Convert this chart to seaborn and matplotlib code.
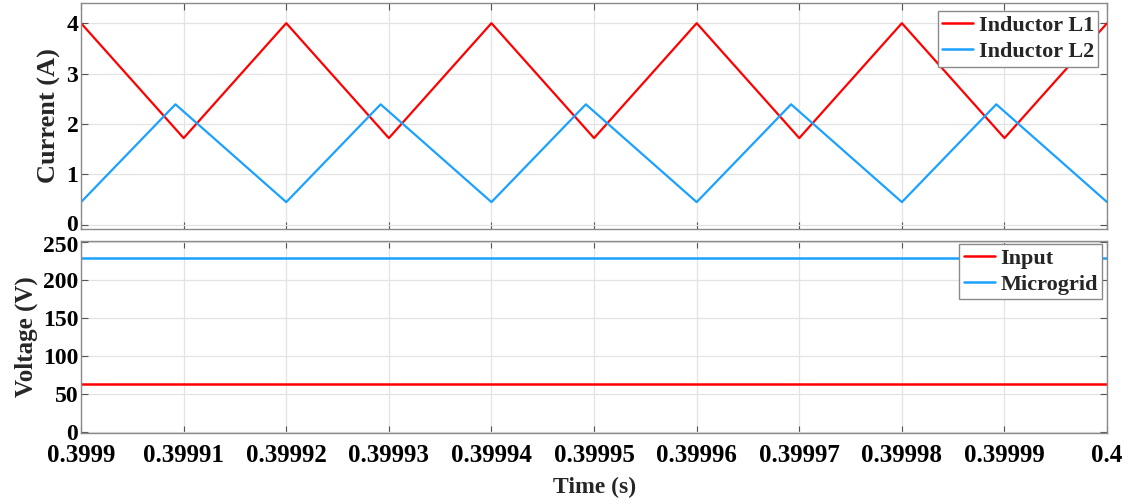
import numpy as np
import pandas as pd
import seaborn as sns
import matplotlib
matplotlib.use("Agg")
import matplotlib.pyplot as plt
from matplotlib.transforms import ScaledTranslation

# Inductor currents (A): triangle-wave vertices over one 100 us window
time_l1 = [0.39990, 0.39991, 0.39992, 0.39993, 0.39994, 0.39995,
           0.39996, 0.39997, 0.39998, 0.39999, 0.40000]
current_l1 = [4.00, 1.72, 4.00, 1.72, 4.00, 1.72, 4.00, 1.72, 4.00, 1.72, 4.00]

time_l2 = [0.39990, 0.3999092, 0.39992, 0.3999292, 0.39994, 0.3999492,
           0.39996, 0.3999692, 0.39998, 0.3999892, 0.40000]
current_l2 = [0.45, 2.39, 0.45, 2.39, 0.45, 2.39, 0.45, 2.39, 0.45, 2.39, 0.45]

# DC voltages (V)
time_v = [0.39990, 0.40000]
voltage_input = [63.0, 63.0]
voltage_microgrid = [229.0, 229.0]

x_ticks = [0.39990, 0.39991, 0.39992, 0.39993, 0.39994, 0.39995,
           0.39996, 0.39997, 0.39998, 0.39999, 0.40000]
x_tick_labels = ["0.3999", "0.39991", "0.39992", "0.39993", "0.39994", "0.39995",
                 "0.39996", "0.39997", "0.39998", "0.39999", "0.4"]
current_ticks = [0, 1, 2, 3, 4]
voltage_ticks = [0, 50, 100, 150, 200, 250]

current_df = pd.concat([
    pd.DataFrame({"t": time_l1, "value": current_l1, "series": "Inductor L1"}),
    pd.DataFrame({"t": time_l2, "value": current_l2, "series": "Inductor L2"}),
], ignore_index=True)
voltage_df = pd.concat([
    pd.DataFrame({"t": time_v, "value": voltage_input, "series": "Input"}),
    pd.DataFrame({"t": time_v, "value": voltage_microgrid, "series": "Microgrid"}),
], ignore_index=True)

RED = "#FF0000"
BLUE = "#1BA1FF"

sns.set_theme(style="white")
plt.rcParams["font.family"] = ["Liberation Serif", "DejaVu Serif"]
plt.rcParams["font.weight"] = "bold"
plt.rcParams["axes.labelweight"] = "bold"

fig = plt.figure(figsize=(11.32, 5.04), dpi=100)
ax_top = fig.add_axes([0.0716, 0.546, 0.9064, 0.448])
ax_bot = fig.add_axes([0.0716, 0.141, 0.9064, 0.381])

sns.lineplot(data=current_df, x="t", y="value", hue="series",
             palette=[RED, BLUE], linewidth=1.6, ax=ax_top, sort=False,
             estimator=None)
sns.lineplot(data=voltage_df, x="t", y="value", hue="series",
             palette=[RED, BLUE], linewidth=1.8, ax=ax_bot, sort=False,
             estimator=None)

for ax in (ax_top, ax_bot):
    ax.set_xlim(0.39990, 0.40000)
    ax.set_xticks(x_ticks)
    ax.grid(True, color="#E3E3E3", linewidth=0.9)
    ax.set_axisbelow(True)
    ax.tick_params(direction="in", length=5, width=0.8, colors="#555555",
                   top=True, right=True, labelsize=17, labelcolor="black",
                   bottom=True, left=True)
    for s in ax.spines.values():
        s.set_color("#8A8A8A")
        s.set_linewidth(1.0)

ax_top.set_ylim(-0.08, 4.4)
ax_top.set_yticks(current_ticks)
ax_top.set_yticklabels([str(v) for v in current_ticks], fontweight="bold")
ax_top.set_xticklabels([])
ax_top.set_xlabel("")
ax_top.set_ylabel("Current (A)", fontsize=19, fontweight="bold")
ax_top.yaxis.set_label_coords(-0.020, 0.5)
ax_top.tick_params(axis="y", pad=2)

ax_bot.set_ylim(-1, 251.5)
ax_bot.set_yticks(voltage_ticks)
ax_bot.set_yticklabels([str(v) for v in voltage_ticks], fontweight="bold")
ax_bot.set_xticklabels(x_tick_labels, fontweight="bold", fontsize=18)
ax_bot.tick_params(axis="x", pad=8)
ax_bot.tick_params(axis="y", pad=2)
ax_bot.set_xlabel("Time (s)", fontsize=17, fontweight="bold", labelpad=7)
ax_bot.set_ylabel("Voltage (V)", fontsize=18, fontweight="bold")
ax_bot.yaxis.set_label_coords(-0.042, 0.5)

# nudge the two labels that meet at the panel junction slightly apart
top_zero = ax_top.get_yticklabels()[0]
top_zero.set_transform(top_zero.get_transform()
                       + ScaledTranslation(0, 2 / 100, fig.dpi_scale_trans))
bot_top = ax_bot.get_yticklabels()[-1]
bot_top.set_transform(bot_top.get_transform()
                      + ScaledTranslation(0, -2 / 100, fig.dpi_scale_trans))

leg_kw = dict(frameon=True, fancybox=False,
              edgecolor="#8A8A8A", framealpha=1.0, borderpad=0.2,
              labelspacing=0.25, handlelength=1.4, handletextpad=0.25,
              borderaxespad=0.0, prop={"weight": "bold", "size": 16})
lt = ax_top.legend(title=None, loc="upper right",
                   bbox_to_anchor=(0.9915, 0.964), **leg_kw)
lb = ax_bot.legend(title=None, loc="upper right",
                   bbox_to_anchor=(0.9955, 0.985), **leg_kw)
for leg in (lt, lb):
    leg.get_frame().set_linewidth(1.0)
    for line in leg.get_lines():
        line.set_linewidth(1.8)

fig.savefig("out.png", dpi=100)
